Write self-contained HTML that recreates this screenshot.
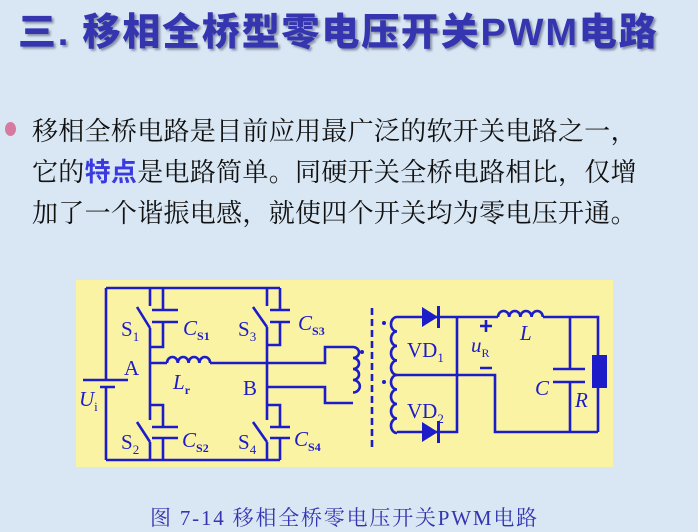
<!DOCTYPE html>
<html><head><meta charset="utf-8"><style>
body{margin:0;width:698px;height:532px;overflow:hidden;background:#d9e7f4;position:relative;font-family:"Liberation Serif","Noto Serif CJK SC",serif}
.t{position:absolute;left:18px;top:1px;font-family:"Liberation Sans","Noto Sans CJK SC",sans-serif;font-weight:900;font-size:38px;color:#3535b0;letter-spacing:1.8px;text-shadow:2px 2px 2px #8890a8;white-space:nowrap}
.b{position:absolute;left:32px;top:111px;font-family:"Liberation Serif","Noto Serif CJK SC",serif;font-size:26px;line-height:41px;color:#111;white-space:nowrap;letter-spacing:0.3px}
.b span{color:#3a3ae0;font-family:"Liberation Sans","Noto Sans CJK SC",sans-serif;font-weight:bold}
.dot{position:absolute;left:5px;top:122px;width:11px;height:14px;border-radius:50%;background:#d77aa0}
.cap{position:absolute;left:150px;top:502px;font-size:21px;color:#3535b0;white-space:nowrap;letter-spacing:1.8px;font-family:"Liberation Serif","Noto Serif CJK SC",serif}
svg{position:absolute;left:0;top:0}
</style></head><body>
<div class="t">三. 移相全桥型零电压开关PWM电路</div>
<div class="dot"></div>
<div class="b">移相全桥电路是目前应用最广泛的软开关电路之一，<br>它的<span>特点</span>是电路简单。同硬开关全桥电路相比，仅增<br>加了一个谐振电感，就使四个开关均为零电压开通。</div>
<svg width="698" height="532" viewBox="0 0 698 532">
<rect x="76" y="280" width="537" height="187" fill="#fbf3a4"/>
<g stroke="#1c1cc8" stroke-width="2.6" fill="none">
<path d="M106 288H280M106 460H280"/>
<path d="M106 288V380M106 387V460"/>
<path d="M83 380H128M100 387H115"/>
<path d="M150 288V306M137 307L150 328M150 328V363M150 363V420M137 422L150 442M150 442V460"/>
<path d="M163 288V310M152 310H178M152 322H178M163 322V347H150"/>
<path d="M150 405H163V427M152 427H178M152 438H178M163 438V460"/>
<path d="M267 288V306M253 307L267 327M267 327V420M253 422L267 442M267 442V460"/>
<path d="M280 288V310M270 310H290M270 322H290M280 322V345H267"/>
<path d="M267 405H280V427M270 427H290M270 438H290M280 438V460"/>
<path d="M150 363H167"/>
<path d="M167 363a5.4 6 0 0 1 10.8 0a5.4 6 0 0 1 10.8 0a5.4 6 0 0 1 10.8 0a5.4 6 0 0 1 10.8 0"/>
<path d="M210 363H325V347H353"/>
<path d="M267 387H325V403H353"/>
<path d="M353 347a6 5.5 0 0 1 0 11a6 5.5 0 0 1 0 11a6 5.5 0 0 1 0 11a6 5.5 0 0 1 0 12.5" />
<path d="M372 308V448" stroke-dasharray="7,4"/>
<path d="M397 317a6 7.25 0 0 0 0 14.5a6 7.25 0 0 0 0 14.5a6 7.25 0 0 0 0 14.5a6 7.25 0 0 0 0 14.5"/>
<path d="M397 375a6 7.25 0 0 0 0 14.5a6 7.25 0 0 0 0 14.5a6 7.25 0 0 0 0 14.5a6 7.25 0 0 0 0 14.5"/>
<path d="M397 317H498M397 432H457V317M397 375H495V432H598"/>
<path d="M498 317a5.6 6 0 0 1 11.2 0a5.6 6 0 0 1 11.2 0a5.6 6 0 0 1 11.2 0a5.6 6 0 0 1 11.2 0"/>
<path d="M543 317H598V432"/>
<path d="M570 317V369M553 369H585M553 382H585M570 382V432"/>
<path d="M486 320V332M480 326H492M480 368H492"/>
</g>
<g fill="#1c1cc8">
<path d="M422 307L438 317L422 327Z"/><rect x="437" y="306" width="3" height="22"/>
<path d="M422 422L438 432L422 442Z"/><rect x="437" y="421" width="3" height="22"/>
<rect x="592" y="355" width="15" height="33"/>
<circle cx="362" cy="352" r="2"/><circle cx="384" cy="323" r="2"/><circle cx="384" cy="382" r="2"/>
</g>
<g font-family="Liberation Serif, serif" font-size="21" fill="#1c1cc8">
<text x="121" y="336">S<tspan font-size="13" dy="5">1</tspan></text>
<text x="183" y="335" font-style="italic">C<tspan font-size="12" dy="5" font-style="normal" font-weight="bold">S1</tspan></text>
<text x="238" y="336">S<tspan font-size="13" dy="5">3</tspan></text>
<text x="298" y="330" font-style="italic">C<tspan font-size="12" dy="5" font-style="normal" font-weight="bold">S3</tspan></text>
<text x="124" y="375">A</text>
<text x="173" y="389" font-style="italic">L<tspan font-size="12" dy="5" font-style="normal" font-weight="bold">r</tspan></text>
<text x="243" y="395">B</text>
<text x="79" y="406" font-style="italic">U<tspan font-size="13" dy="5" font-style="normal">i</tspan></text>
<text x="121" y="449">S<tspan font-size="13" dy="5">2</tspan></text>
<text x="182" y="447" font-style="italic">C<tspan font-size="12" dy="5" font-style="normal" font-weight="bold">S2</tspan></text>
<text x="238" y="449">S<tspan font-size="13" dy="5">4</tspan></text>
<text x="294" y="446" font-style="italic">C<tspan font-size="12" dy="5" font-style="normal" font-weight="bold">S4</tspan></text>
<text x="407" y="357">VD<tspan font-size="13" dy="5">1</tspan></text>
<text x="407" y="418">VD<tspan font-size="13" dy="5">2</tspan></text>
<text x="471" y="352" font-style="italic">u<tspan font-size="12" dy="5" font-style="normal">R</tspan></text>
<text x="520" y="340" font-style="italic">L</text>
<text x="535" y="395" font-style="italic">C</text>
<text x="575" y="407" font-style="italic">R</text>
</g>
</svg>
<div class="cap">图 7-14 移相全桥零电压开关PWM电路</div>
</body></html>
